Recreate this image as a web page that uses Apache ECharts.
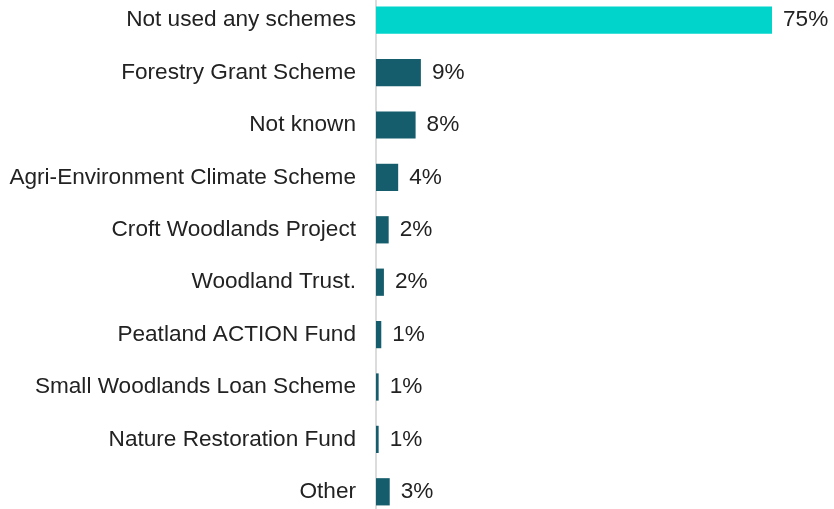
<!DOCTYPE html>
<html>
<head>
<meta charset="utf-8">
<script src="https://cdn.jsdelivr.net/npm/echarts@6/dist/echarts.min.js"></script>
<style>
html,body{margin:0;padding:0;background:#fff;overflow:hidden;width:834px;height:509px;}
#chart{position:absolute;left:0;top:-6px;width:834px;height:524px;}
</style>
</head>
<body>
<div id="chart"></div>
<script>
var categories = [
  "Not used any schemes",
  "Forestry Grant Scheme",
  "Not known",
  "Agri-Environment Climate Scheme",
  "Croft Woodlands Project",
  "Woodland Trust.",
  "Peatland ACTION Fund",
  "Small Woodlands Loan Scheme",
  "Nature Restoration Fund",
  "Other"
];
var values = [75, 8.5, 7.5, 4.2, 2.4, 1.5, 1.0, 0.5, 0.5, 2.6];
var barColors = ["#00d4cb","#155d6c","#155d6c","#155d6c","#155d6c","#155d6c","#155d6c","#155d6c","#155d6c","#155d6c"];

var chart = echarts.init(document.getElementById('chart'), null, {renderer:'canvas'});
chart.setOption({
  animation: false,
  grid: {left: 376, right: 62, top: 0, bottom: 0, containLabel: false},
  xAxis: {
    type: 'value', min: 0, max: 75,
    show: false
  },
  yAxis: {
    type: 'category',
    inverse: true,
    data: categories,
    axisTick: {show: false},
    axisLine: {show: true, lineStyle: {color: '#d0d0d0', width: 1.5}},
    axisLabel: {
      margin: 20,
      fontFamily: 'Liberation Sans, Arial, sans-serif',
      fontSize: 22.6,
      color: '#222222'
    }
  },
  series: [{
    type: 'bar',
    data: values.map(function(v, i){ return {value: v, itemStyle: {color: barColors[i]}}; }),
    barCategoryGap: '48%',
    label: {
      show: true,
      position: 'right',
      distance: 11,
      fontFamily: 'Liberation Sans, Arial, sans-serif',
      fontSize: 22.6,
      color: '#222222',
      formatter: function(p){ return Math.round(p.value) + '%'; }
    }
  }]
});
</script>
</body>
</html>
